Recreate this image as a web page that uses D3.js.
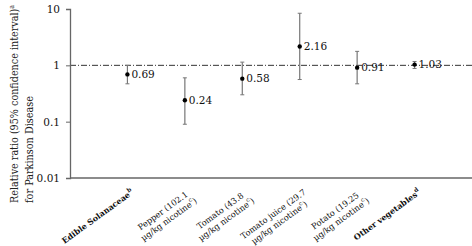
<!DOCTYPE html>
<html>
<head>
<meta charset="utf-8">
<script src="https://cdn.jsdelivr.net/npm/d3@7"></script>
<style>
  body { margin: 0; background: #fff; }
</style>
</head>
<body>
<div id="chart"></div>
<script>
// categories, each one a list of label lines; bold ones are group totals
const categories = [
  ["Edible Solanaceae|b"],
  ["Pepper (102.1", "µg/kg nicotine|c)"],
  ["Tomato (43.8", "µg/kg  nicotine|c)"],
  ["Tomato juice (29.7", "µg/kg nicotine|c)"],
  ["Potato (19.25", "µg/kg nicotine|c)"],
  ["Other vegetables|d"]
];
const boldCats = [true, false, false, false, false, true];
const ratios = [0.69, 0.24, 0.58, 2.16, 0.91, 1.03];
const lower = [0.47, 0.09, 0.30, 0.56, 0.47, 0.88];
const upper = [1.00, 0.60, 1.14, 8.4, 1.77, 1.17];
const yTicks = [0.01, 0.1, 1, 10];

const serif = "'DejaVu Serif', serif";
const width = 472, height = 246;
const margin = { top: 9, right: 0, bottom: 68, left: 70 };

let svg = d3.select("#chart").append("svg")
  .attr("width", width)
  .attr("height", height);

let x = d3.scalePoint()
  .domain(d3.range(categories.length))
  .range([margin.left, width - margin.right])
  .padding(1);

let y = d3.scaleLog()
  .domain([0.01, 10])
  .range([height - margin.bottom, margin.top]);

// reference line at 1
svg.append("line")
  .attr("x1", margin.left).attr("x2", width)
  .attr("y1", y(1)).attr("y2", y(1))
  .attr("stroke", "#333")
  .attr("stroke-width", 1)
  .attr("stroke-dasharray", "6,2,1,2");

// y axis
let yAxis = svg.append("g")
  .attr("transform", `translate(${margin.left},0)`)
  .call(d3.axisLeft(y).tickValues(yTicks).tickFormat(d => d).tickSize(4).tickPadding(6));
yAxis.select(".domain").attr("stroke", "#666").attr("stroke-width", 1.3);
yAxis.selectAll(".tick line").attr("stroke", "#666");
yAxis.selectAll("text").style("font-family", serif).attr("font-size", 10.5).attr("fill", "#111");

// x axis line
svg.append("line")
  .attr("x1", margin.left).attr("x2", width)
  .attr("y1", y(0.01)).attr("y2", y(0.01))
  .attr("stroke", "#666").attr("stroke-width", 1.3);

// y label (squeezed a bit, DejaVu Serif runs wider than Times)
let yLabel1 = svg.append("text")
  .attr("transform", `translate(18,203) rotate(-90)`)
  .style("font-family", serif)
  .attr("font-size", 11.5)
  .attr("textLength", 198)
  .attr("lengthAdjust", "spacingAndGlyphs")
  .attr("fill", "#222");
yLabel1.append("tspan").text("Relative ratio (95% confidence interval)");
yLabel1.append("tspan").attr("font-size", 7.5).attr("dy", -4).text("a");

svg.append("text")
  .attr("transform", `translate(33,203) rotate(-90)`)
  .style("font-family", serif)
  .attr("font-size", 11.5)
  .attr("textLength", 107)
  .attr("lengthAdjust", "spacingAndGlyphs")
  .attr("fill", "#222")
  .text("for Parkinson Disease");

// x labels
categories.forEach((lines, i) => {
  let g = svg.append("g")
    .attr("transform", `translate(${x(i) + 2},187) rotate(-36)`);
  let texts = lines.map((line, j) => {
    let parts = line.split("|");
    let t = g.append("text")
      .attr("y", 8 + j * 10.5)
      .attr("text-anchor", "middle")
      .style("font-family", serif)
      .attr("font-size", boldCats[i] ? 8 : 8.3)
      .attr("font-weight", boldCats[i] ? "bold" : "normal")
      .attr("fill", "#111");
    t.append("tspan").text(parts[0]);
    if (parts[1]) {
      t.append("tspan").attr("font-size", 6).attr("dy", -4).text(parts[1].replace(")", ""));
      if (parts[1].includes(")")) t.append("tspan").attr("dy", 4).text(")");
    }
    return t;
  });
  let maxW = d3.max(texts, t => t.node().getComputedTextLength());
  texts.forEach(t => t.attr("x", -maxW / 2));
});

// error bars
let bars = svg.append("g");
ratios.forEach((r, i) => {
  let cx = x(i);
  bars.append("line")
    .attr("x1", cx).attr("x2", cx)
    .attr("y1", y(lower[i])).attr("y2", y(upper[i]))
    .attr("stroke", "#777").attr("stroke-width", 1.2);
  [lower[i], upper[i]].forEach(v => {
    bars.append("line")
      .attr("x1", cx - 2).attr("x2", cx + 2)
      .attr("y1", y(v)).attr("y2", y(v))
      .attr("stroke", "#777").attr("stroke-width", 1);
  });
});

// points + value labels
svg.append("g").selectAll("circle")
  .data(ratios)
  .enter().append("circle")
  .attr("cx", (d, i) => x(i))
  .attr("cy", d => y(d))
  .attr("r", 2.2)
  .attr("fill", "#000");

svg.append("g").selectAll("text")
  .data(ratios)
  .enter().append("text")
  .attr("x", (d, i) => x(i) + 4)
  .attr("y", d => y(d))
  .attr("dy", "0.35em")
  .style("font-family", serif)
  .attr("font-size", 10.5)
  .attr("fill", "#111")
  .text(d => d.toFixed(2));
</script>
</body>
</html>
